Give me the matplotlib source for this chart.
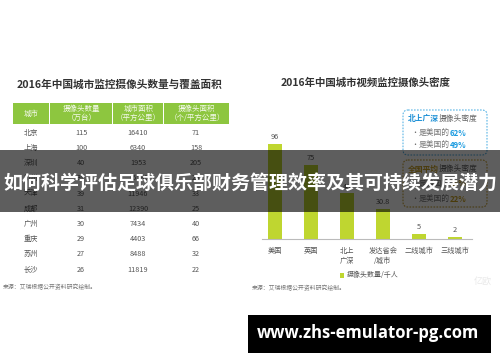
import matplotlib
matplotlib.use("Agg")
import matplotlib.pyplot as plt
from matplotlib.patches import Rectangle, FancyBboxPatch

plt.rcParams['font.family'] = ['Noto Sans CJK SC', 'DejaVu Sans']

# ---------------- data ----------------
left_title = "2016年中国城市监控摄像头数量与覆盖面积"
right_title = "2016年中国城市视频监控摄像头密度"
table_headers = ["城市", "摄像头数量\n（万台）", "城市面积\n（平方公里）", "摄像头面积\n（个/平方公里）"]
cities = ["北京", "上海", "深圳", "杭州", "天津", "成都", "广州", "重庆", "苏州", "长沙"]
cameras = [115, 100, 40, 34, 39, 31, 30, 29, 27, 26]
areas = [16410, 6340, 1953, 16596, 11946, 12390, 7434, 4403, 8488, 11819]
densities = [71, 158, 205, 20, 33, 25, 40, 66, 32, 22]

bar_categories = ["美国", "英国", "北上\n广深", "发达省会\n/城市", "二线城市", "三线城市"]
bar_values = [96, 75, 46, 30.8, 5, 2]
bar_labels = ["96", "75", "46", "30.8", "5", "2"]
legend_label = "摄像头数量/千人"
source_text = "来源：艾瑞根据公开资料研究绘制。"

box1_head = ("北上广深", "摄像头密度")
box1_lines = [("是美国的", "62%"), ("是美国的", "49%")]
box2_head = ("全国平均", "摄像头密度")
box2_lines = [("是英国的", "28%"), ("是美国的", "22%")]

banner_text = "如何科学评估足球俱乐部财务管理效率及其可持续发展潜力"
url_text = "www.zhs-emulator-pg.com"

# ---------------- figure ----------------
W, H = 500, 362
fig = plt.figure(figsize=(W / 100, H / 100), dpi=100)
fig.patch.set_facecolor("white")

bg = fig.add_axes([0, 0, 1, 1])
bg.set_xlim(0, W)
bg.set_ylim(H, 0)
bg.axis("off")

TXT = "#555555"
GREEN_HDR = "#8dc63f"
BAR = "#bfd630"

# left title
bg.text(17, 85, left_title, fontsize=7.7, fontweight="bold", color="#333333",
        ha="left", va="center")

# table header
col_edges = [13, 50, 113, 164, 230]
for i in range(4):
    bg.add_patch(Rectangle((col_edges[i], 103), col_edges[i + 1] - col_edges[i] - 1, 21,
                           facecolor=GREEN_HDR, edgecolor="none"))
    cx = (col_edges[i] + col_edges[i + 1]) / 2
    bg.text(cx, 113.5, table_headers[i], fontsize=5.4, color="#f4f9ec", ha="center",
            va="center", linespacing=1.15)

col_centers = [31, 81, 138, 196]
row_y0, row_dy = 132.7, 15.2
for r, (c, cam, ar, de) in enumerate(zip(cities, cameras, areas, densities)):
    y = row_y0 + r * row_dy
    for cx, val in zip(col_centers, [c, str(cam), str(ar), str(de)]):
        bg.text(cx, y, val, fontsize=5.2, color=TXT, ha="center", va="center")

bg.text(3, 287, source_text, fontsize=4.2, color="#777777", ha="left", va="center")

# right title
bg.text(281, 83, right_title, fontsize=7.5, fontweight="bold", color="#333333",
        ha="left", va="center")

# info boxes
def box(x0, y0, x1, y1, color):
    bg.add_patch(FancyBboxPatch((x0, y0), x1 - x0, y1 - y0,
                                boxstyle="round,pad=0,rounding_size=5",
                                facecolor="none", edgecolor=color, lw=0.8,
                                linestyle=(0, (1.5, 1.2))))

box(403, 110, 487, 155, "#5ab4e5")
box(403, 160, 487, 207, "#c9a43a")

def head(y, parts, color):
    t = bg.text(408, y, parts[0], fontsize=5.6, fontweight="bold", color=color,
                ha="left", va="center")
    bg.annotate(parts[1], xy=(1, 0.5), xycoords=t, fontsize=5.6, color="#666666",
                ha="left", va="center")

def bullet(y, parts, color):
    bg.text(411, y, "•", fontsize=5, color="#666666", ha="left", va="center")
    t = bg.text(419, y, parts[0], fontsize=5.6, color="#777777", ha="left", va="center")
    bg.annotate(parts[1], xy=(1, 0.5), xycoords=t, fontsize=5.6, fontweight="bold",
                color=color, ha="left", va="center")

head(119, box1_head, "#1a8fd6")
bullet(133, box1_lines[0], "#1a9be0")
bullet(145, box1_lines[1], "#1a9be0")
head(169, box2_head, "#c9a020")
bullet(184, box2_lines[0], "#c9a020")
bullet(199, box2_lines[1], "#c9a020")

# watermark
bg.text(483, 281, "亿欧", fontsize=6.5, color="#e8e8e8", ha="center", va="center")

# legend + source for right chart
bg.add_patch(Rectangle((340, 272.5), 4, 5, facecolor=BAR, edgecolor="none"))
bg.text(347, 275, legend_label, fontsize=5, color=TXT, ha="left", va="center")
bg.text(252, 288, source_text, fontsize=4.2, color="#777777", ha="left", va="center")

# ---------------- bar chart ----------------
px_per_unit = 0.99
ax_left, ax_right = 262, 472
base_y = 239
ymax = 100
ax = fig.add_axes([ax_left / W, (H - base_y) / H, (ax_right - ax_left) / W,
                   ymax * px_per_unit / H])
ax.set_facecolor("none")
x = list(range(len(bar_values)))
ax.bar(x, bar_values, width=0.39, color=BAR, zorder=2)
ax.set_xlim(-13 / 36, (ax_right - 275) / 36)
ax.set_ylim(0, ymax)
for s in ["top", "left", "right"]:
    ax.spines[s].set_visible(False)
ax.spines["bottom"].set_color("#bbbbbb")
ax.spines["bottom"].set_linewidth(0.8)
ax.set_yticks([])
ax.set_xticks(x)
ax.set_xticklabels(bar_categories, fontsize=5.2, color=TXT, linespacing=1.2, va="top")
ax.tick_params(axis="x", length=0, pad=6)
for xi, v, lab in zip(x, bar_values, bar_labels):
    ax.annotate(lab, (xi, v), xytext=(0, 5), textcoords="offset points",
                ha="center", va="center", fontsize=5.3, color=TXT)

# ---------------- overlay ----------------
ov = fig.add_axes([0, 0, 1, 1])
ov.set_xlim(0, W)
ov.set_ylim(H, 0)
ov.axis("off")
ov.patch.set_alpha(0)
ov.add_patch(Rectangle((0, 150), W, 62, facecolor="black", alpha=0.63, edgecolor="none"))
ov.text(250, 183, banner_text, fontsize=13.7, fontweight="bold", color="white",
        ha="center", va="center")
ov.add_patch(Rectangle((248, 315), 243, 38, facecolor="black", edgecolor="none"))
ov.text(368, 333.5, url_text, fontsize=12, fontweight="bold", color="white",
        ha="center", va="center", family=["Open Sans", "DejaVu Sans"])

fig.savefig("out.png", dpi=100, facecolor="white")
